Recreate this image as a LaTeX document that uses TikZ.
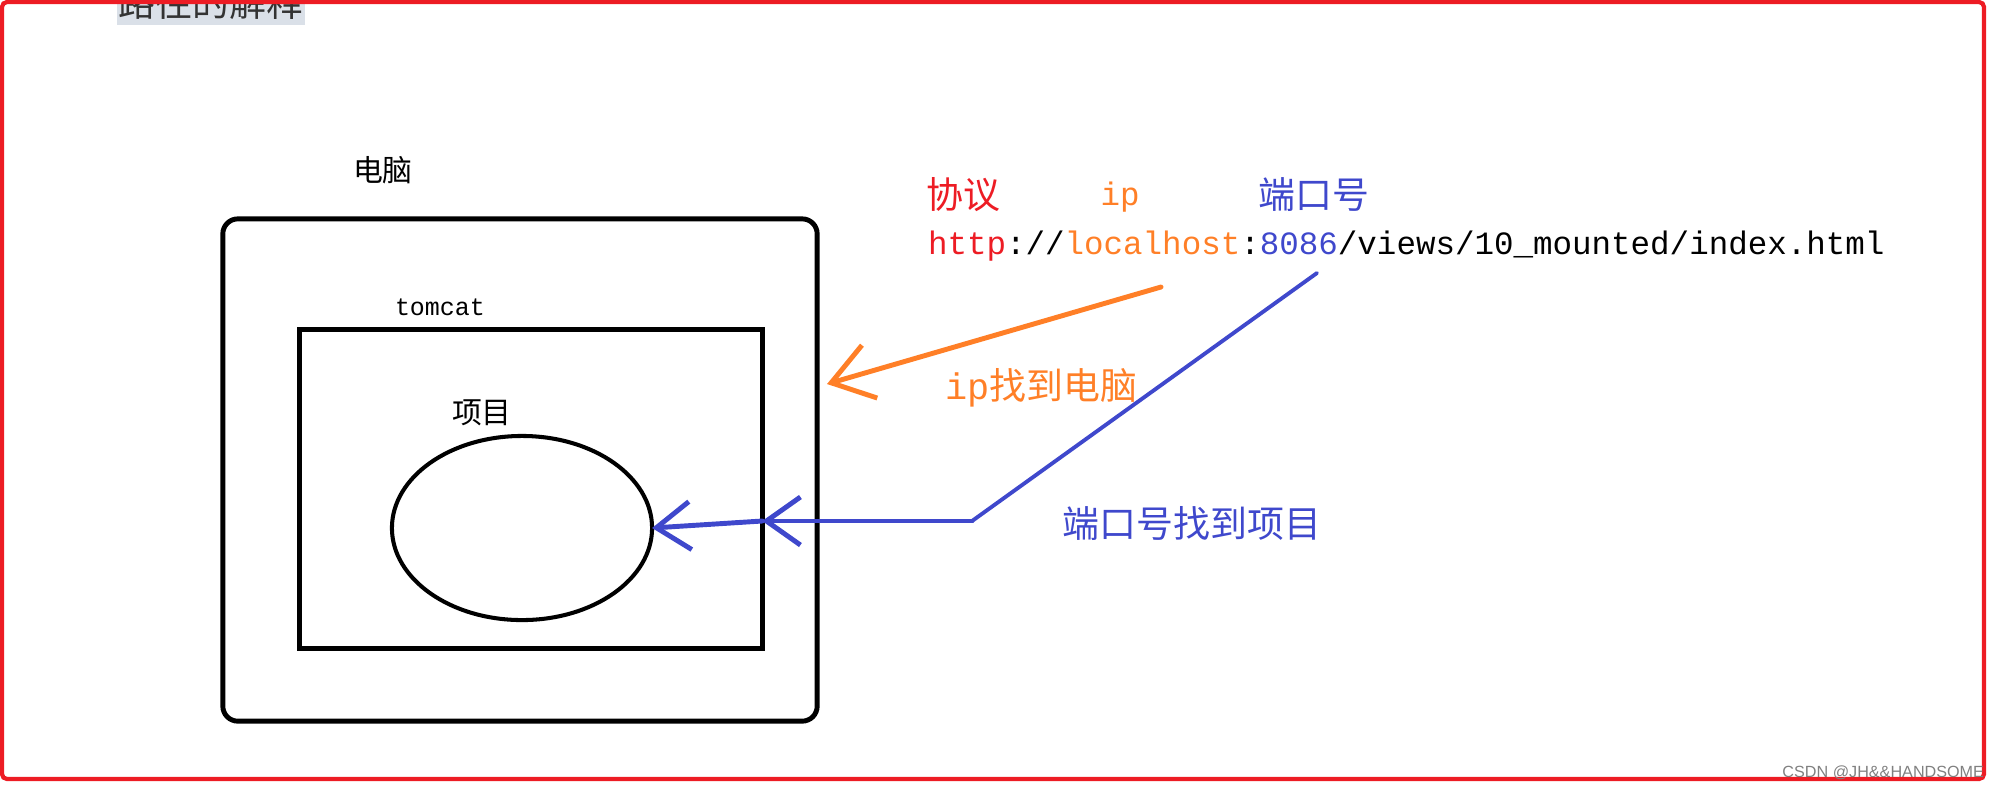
\documentclass[tikz,border=0pt]{standalone}
\usepackage{fontspec}
\setmainfont{Liberation Serif}
\newfontfamily\cjk{Noto Sans CJK SC}
\newfontfamily\mono{Liberation Mono}
\newfontfamily\wmfont{Liberation Sans}
\usetikzlibrary{arrows.meta,shapes.geometric,positioning}
\definecolor{paintred}{RGB}{237,28,36}
\definecolor{paintorange}{RGB}{255,127,39}
\definecolor{paintblue}{RGB}{63,72,204}
\definecolor{titlegray}{RGB}{218,224,232}

\begin{document}
\begin{tikzpicture}
[x=0.01cm, y=-0.01cm,
  every node/.style={inner sep=0pt, outer sep=0pt},
  boxline/.style={draw=black, line width=1.4pt},
  hint/.style={font=\cjk\fontsize{8.5}{9}\selectfont},
  tag/.style={font=\cjk\fontsize{10.5}{11}\selectfont},
  url/.style={font=\mono\fontsize{9.25}{10}\selectfont},
  ipline/.style={draw=paintorange, line width=1.4pt, line cap=round,
    -{Straight Barb[length=4mm, width=5.5mm]}},
  portline/.style={draw=paintblue, line width=1.4pt, line cap=round,
    line join=round, -{Straight Barb[length=3.4mm, width=4.8mm]}}]
  \useasboundingbox (0,0) rectangle (2001,790);
  \fill[titlegray] (117,0) rectangle (305,25);
  \node[font=\cjk\fontsize{10.5}{11}\selectfont, text=black!80] (title) at (211,2) {路径的解释};
  \draw[paintred, line width=1.2pt, rounded corners=0.5mm] (2,2) rectangle (1984,779);

  \node[boxline, rounded corners=1.5mm, minimum width=59.4mm, minimum height=50.2mm] (pc) at (520,470) {};
  \node[boxline, minimum width=46.2mm, minimum height=31.8mm] (tomcat) at (531,489) {};
  \node[boxline, ellipse, line width=1.15pt, minimum width=26mm, minimum height=18.4mm] (proj) at (522,528) {};
  \node[hint, above=3.5mm of pc.north, xshift=-13.7mm] (pctext) {电脑};
  \node[url, font=\mono\fontsize{7.1}{8}\selectfont, above=1.4mm of tomcat.north, xshift=-9.1mm] (tomcattext) {tomcat};
  \node[hint, above=1.05mm of proj.north, xshift=-4mm] (projtext) {项目};

  % address and its parts
  \node[url, anchor=west] (addr) at (928,246) {\textcolor{paintred}{http}://\textcolor{paintorange}{localhost}:\textcolor{paintblue}{8086}/views/10\_mounted/index.html};
  \node[tag, text=paintred] (proto) at (963,195) {协议};
  \node[url, text=paintorange] (iphead) at (1120,197) {ip};
  \node[tag, text=paintblue] (porthead) at (1314,195) {端口号};

  % ip -> computer
  \coordinate (ipfrom) at (1161,287);
  \coordinate (iptip) at (827,384);
  \draw[ipline] (ipfrom) -- (iptip);
  \node[tag, text=paintorange] (iptext) at (1041,388) {{\mono ip}找到电脑};

  % port -> project
  \coordinate (portfrom) at (1317,273);
  \coordinate (portbend) at (972,521);
  \draw[portline, -, line width=1.1pt] (portfrom) -- (portbend);
  \draw[portline] (portbend) -- (tomcat.east |- portbend);
  \draw[portline] (tomcat.east |- portbend) -- (proj.east);
  \node[tag, text=paintblue] (porttext) at (1192,523) {端口号找到项目};

  \node[font=\wmfont\fontsize{4.6}{5}\selectfont, text=gray, anchor=east] (mark) at (1984,773) {CSDN @JH\&\&HANDSOME};
\end{tikzpicture}
\end{document}
